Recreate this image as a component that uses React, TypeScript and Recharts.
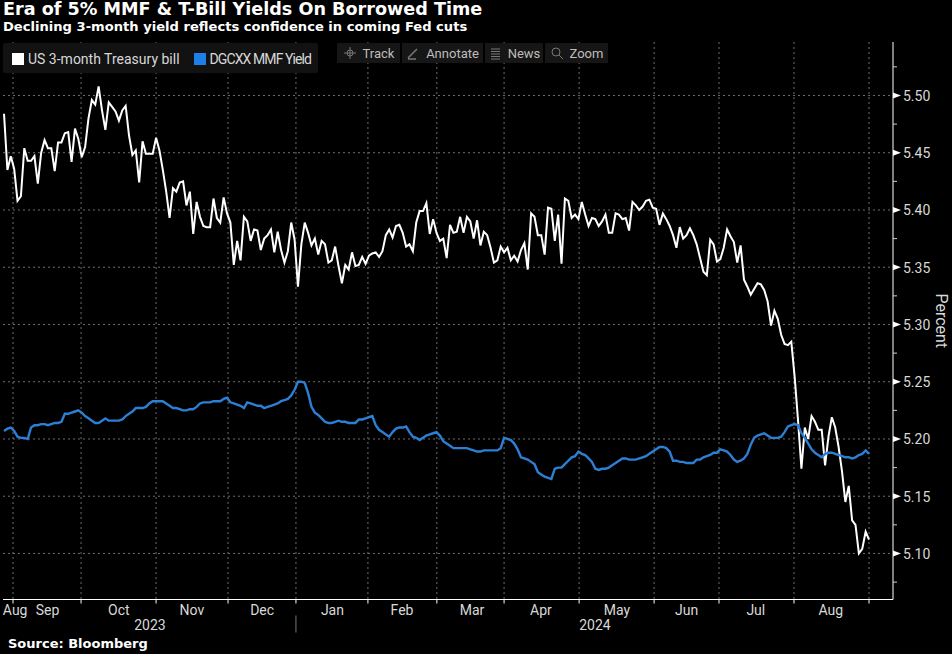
import { CartesianGrid, Legend, Line, LineChart, XAxis, YAxis } from "recharts";

const BILL_NAME = "US 3-month Treasury bill";
const FUND_NAME = "DGCXX MMF Yield";

// weekday by weekday, Aug 2023 to Aug 2024
const billYield = [
    5.484, 5.435, 5.447, 5.436, 5.408, 5.412, 5.454, 5.443, 5.443, 5.447,
    5.423, 5.450, 5.461, 5.454, 5.454, 5.434, 5.459, 5.459, 5.467, 5.468,
    5.442, 5.471, 5.462, 5.446, 5.455, 5.480, 5.496, 5.492, 5.508, 5.487,
    5.470, 5.494, 5.490, 5.486, 5.478, 5.487, 5.491, 5.465, 5.448, 5.452,
    5.424, 5.460, 5.449, 5.449, 5.449, 5.463, 5.452,
    5.435, 5.416, 5.393, 5.419, 5.416, 5.424, 5.425, 5.404, 5.416, 5.379,
    5.407, 5.394, 5.386, 5.385, 5.385, 5.410, 5.393, 5.389, 5.411, 5.397,
    5.389, 5.352, 5.373, 5.356, 5.394, 5.390, 5.373, 5.383, 5.382, 5.365,
    5.375, 5.378, 5.383, 5.363, 5.381, 5.365, 5.354, 5.364, 5.389, 5.374,
    5.333, 5.370,
    5.389, 5.380, 5.369, 5.375, 5.361, 5.373, 5.370, 5.354, 5.356, 5.368,
    5.351, 5.336, 5.352, 5.348, 5.363, 5.351, 5.352, 5.359, 5.353, 5.360,
    5.362, 5.363, 5.359, 5.364, 5.378, 5.383, 5.376, 5.386, 5.387, 5.380,
    5.368, 5.370, 5.364, 5.389, 5.399, 5.399, 5.406, 5.379, 5.392, 5.380,
    5.373, 5.375, 5.358, 5.387, 5.380, 5.381, 5.394, 5.380, 5.394, 5.390,
    5.375, 5.391, 5.369, 5.381, 5.378, 5.367, 5.354, 5.356, 5.368, 5.363,
    5.367, 5.356, 5.360, 5.355, 5.365, 5.371, 5.348, 5.397, 5.394, 5.378,
    5.378, 5.361, 5.402, 5.401, 5.373, 5.396, 5.353, 5.410, 5.408, 5.393,
    5.396, 5.392, 5.407, 5.396, 5.386, 5.393, 5.392, 5.386, 5.390, 5.396,
    5.380, 5.380, 5.397, 5.396, 5.392, 5.393, 5.382, 5.407, 5.404, 5.400,
    5.403, 5.408, 5.409, 5.402, 5.401, 5.387, 5.397, 5.392, 5.386, 5.378,
    5.367, 5.385, 5.375, 5.378, 5.384, 5.378, 5.370, 5.358, 5.346, 5.343,
    5.374, 5.370, 5.355, 5.357, 5.367, 5.383,
    5.377, 5.372, 5.354, 5.369, 5.339, 5.333, 5.326, 5.331, 5.336, 5.335,
    5.330, 5.320, 5.299, 5.312, 5.305, 5.291, 5.283, 5.282, 5.285, 5.254,
    5.216, 5.174, 5.210, 5.200, 5.220, 5.215, 5.208, 5.208, 5.177, 5.202,
    5.219, 5.210, 5.193, 5.172, 5.145, 5.159, 5.129, 5.125, 5.100, 5.104,
    5.119, 5.112,
];

const fundYield = [
    5.207, 5.209, 5.210, 5.207, 5.202, 5.201, 5.201, 5.200, 5.210, 5.212,
    5.212, 5.213, 5.213, 5.212, 5.213, 5.214, 5.214, 5.215, 5.222, 5.222,
    5.223, 5.224, 5.225, 5.223, 5.220, 5.218, 5.216, 5.214, 5.214, 5.216,
    5.218, 5.216, 5.216, 5.216, 5.216, 5.217, 5.220, 5.222, 5.224, 5.227,
    5.227, 5.227, 5.228, 5.231, 5.233, 5.233, 5.233, 5.233, 5.231, 5.229,
    5.227, 5.227, 5.226, 5.225, 5.225, 5.226, 5.226, 5.228, 5.231, 5.232,
    5.232, 5.232, 5.233, 5.233, 5.233, 5.235, 5.236, 5.232, 5.231, 5.230,
    5.229, 5.227, 5.232, 5.231, 5.230, 5.229, 5.229, 5.227, 5.228, 5.229,
    5.230, 5.231, 5.233, 5.234, 5.235, 5.238, 5.243, 5.250, 5.250, 5.249,
    5.240, 5.228, 5.223, 5.221, 5.218, 5.215, 5.214, 5.214, 5.215, 5.216,
    5.215, 5.215, 5.214, 5.214, 5.214, 5.217, 5.217, 5.218, 5.219, 5.220,
    5.212, 5.208, 5.206, 5.204, 5.202, 5.206, 5.209, 5.210, 5.210, 5.211,
    5.206, 5.202, 5.201, 5.199, 5.201, 5.203, 5.204, 5.205, 5.206, 5.203,
    5.198, 5.196, 5.194, 5.192, 5.192, 5.192, 5.192, 5.192, 5.191, 5.190,
    5.189, 5.189, 5.190, 5.190, 5.190, 5.190, 5.190, 5.192, 5.201, 5.200,
    5.199, 5.196, 5.191, 5.184, 5.183, 5.182, 5.180, 5.178, 5.171, 5.169,
    5.167, 5.166, 5.165, 5.174, 5.175, 5.175, 5.178, 5.181, 5.184, 5.185,
    5.189, 5.187, 5.186, 5.183, 5.180, 5.174, 5.173, 5.174, 5.174, 5.175,
    5.177, 5.179, 5.181, 5.183, 5.183, 5.182, 5.182, 5.182, 5.183, 5.184,
    5.185, 5.187, 5.189, 5.191, 5.193, 5.193, 5.192, 5.189, 5.181, 5.181,
    5.180, 5.180, 5.179, 5.179, 5.179, 5.182, 5.182, 5.184, 5.185, 5.186,
    5.188, 5.188, 5.191, 5.190, 5.189, 5.186, 5.182, 5.180, 5.181, 5.183,
    5.187, 5.195, 5.201, 5.203, 5.204, 5.205, 5.203, 5.201, 5.201, 5.201,
    5.202, 5.206, 5.211, 5.212, 5.213, 5.212, 5.205, 5.201, 5.196, 5.191,
    5.188, 5.186, 5.184, 5.187, 5.188, 5.188, 5.187, 5.186, 5.185, 5.184,
    5.184, 5.183, 5.184, 5.186, 5.187, 5.190, 5.187,
];

const monthEndTicks = [2.66, 22.8, 45, 66.3, 86.4, 107.7, 128.1, 148, 170.2, 192.4, 211.6, 233.8, 256];
const monthLabelTicks = [3.3, 12.9, 34, 55.6, 76.4, 97.2, 117.8, 138.5, 158.9, 181.4, 202, 222.5, 244.7];
const monthLabels = ["Aug", "Sep", "Oct", "Nov", "Dec", "Jan", "Feb", "Mar", "Apr", "May", "Jun", "Jul", "Aug"];
const yearTicks = [43.2, 86.4, 174.9];
const yearLabels = ["2023", "", "2024"];
const majorTicks = [5.1, 5.15, 5.2, 5.25, 5.3, 5.35, 5.4, 5.45, 5.5];
const allYTicks = [5.075, 5.1, 5.125, 5.15, 5.175, 5.2, 5.225, 5.25, 5.275, 5.3, 5.325, 5.35, 5.375, 5.4, 5.425, 5.45, 5.475, 5.5, 5.525];
const tools = ["Track", "Annotate", "News", "Zoom"];

const tableData = billYield.map((bill, i) => ({ day: i, bill, fund: fundYield[i] }));

const X_DOMAIN: [number, number] = [-0.3, 263.1];
const FONT = "Roboto, 'Liberation Sans', sans-serif";
const HEAD_FONT = "'DejaVu Sans', sans-serif";
const AXIS_TEXT = "#d8d8d8";
const FUND_BLUE = "#2b7fd4";

const YTick = ({ x, y, payload }: any) => {
    const isMajor = majorTicks.some((t) => Math.abs(t - payload.value) < 0.001);
    if (!isMajor) return <line x1={x} x2={x + 4} y1={y} y2={y} stroke="#cfcfcf" />;
    return (
        <g>
            <path d={`M${x} ${y - 3}L${x + 8} ${y}L${x} ${y + 3}Z`} fill="#fff" />
            <text x={x + 10} y={y + 5.5} fill={AXIS_TEXT} fontSize={14} fontFamily={FONT}>{payload.value.toFixed(2)}</text>
        </g>
    );
};

const YearTick = ({ x, y, payload }: any) => {
    const label = yearLabels[yearTicks.indexOf(payload.value)];
    if (!label) return <line x1={x} x2={x} y1={y - 6} y2={y + 11} stroke="#777" />;
    return <text x={x} y={y + 8} textAnchor="middle" fill={AXIS_TEXT} fontSize={14} fontFamily={FONT}>{label}</text>;
};

const NoLabel = () => <g />;

const LegendBox = () => (
    <div style={{ display: "flex", alignItems: "center", height: 30, width: 315, background: "#121212", borderRadius: 2, fontFamily: FONT, fontSize: 14, color: AXIS_TEXT, boxSizing: "border-box", paddingLeft: 9, paddingTop: 1 }}>
        <span style={{ width: 12, height: 12, flexShrink: 0, background: "#fff", marginRight: 4 }} />
        <span style={{ marginRight: 14, whiteSpace: "nowrap" }}>{BILL_NAME}</span>
        <span style={{ width: 12, height: 12, flexShrink: 0, background: "#1f7fe8", marginRight: 4 }} />
        <span style={{ whiteSpace: "nowrap", letterSpacing: -0.9 }}>{FUND_NAME}</span>
    </div>
);

const ToolIcon = ({ name }: { name: string }) => {
    const stroke = "#777";
    if (name === "Track") return <svg width={14} height={14}><circle cx={7} cy={7} r={3} fill="none" stroke={stroke} /><path d="M7 1V13M1 7H13" stroke={stroke} /></svg>;
    if (name === "Annotate") return <svg width={14} height={14}><path d="M2 12L11 3M2 13H10" stroke={stroke} strokeWidth={1.5} /></svg>;
    if (name === "News") return <svg width={14} height={14}><path d="M3 3H12M3 5.5H12M3 8H12M3 10.5H12M3 13H12" stroke={stroke} /></svg>;
    return <svg width={14} height={14}><circle cx={6} cy={6} r={4} fill="none" stroke={stroke} /><path d="M9 9L13 13" stroke={stroke} /></svg>;
};

const toolWidths = [63, 81, 58, 63];

export default function App() {
    return (
        <div style={{ position: "absolute", left: 0, top: 0, width: 952, height: 654, background: "#000", overflow: "hidden" }}>
            <LineChart
                width={952}
                height={654}
                data={tableData}
                margin={{ top: 42, right: 0, bottom: 10.5, left: 3 }}
            >
                <CartesianGrid
                    stroke="#6e6e6e"
                    strokeDasharray="2 3"
                    horizontalValues={majorTicks}
                    verticalValues={monthEndTicks}
                    syncWithTicks={false}
                />
                <XAxis
                    dataKey="day"
                    type="number"
                    domain={X_DOMAIN}
                    ticks={monthEndTicks}
                    tick={<NoLabel />}
                    height={4}
                    tickSize={4}
                    interval={0}
                    allowDataOverflow
                    stroke="#fff"
                />
                <XAxis
                    xAxisId="months"
                    dataKey="day"
                    type="number"
                    domain={X_DOMAIN}
                    ticks={monthLabelTicks}
                    tickFormatter={(v: number) => monthLabels[monthLabelTicks.indexOf(v)]}
                    tick={{ fill: AXIS_TEXT, fontSize: 14, fontFamily: FONT }}
                    height={18}
                    tickLine={false}
                    axisLine={false}
                    tickSize={0}
                    tickMargin={2}
                    interval={0}
                    allowDataOverflow
                />
                <XAxis
                    xAxisId="years"
                    dataKey="day"
                    type="number"
                    domain={X_DOMAIN}
                    ticks={yearTicks}
                    tick={<YearTick />}
                    height={22}
                    tickLine={false}
                    axisLine={false}
                    tickSize={0}
                    tickMargin={0}
                    interval={0}
                    allowDataOverflow
                />
                <YAxis
                    orientation="right"
                    type="number"
                    domain={[5.0598, 5.5467]}
                    ticks={allYTicks}
                    tick={<YTick />}
                    tickLine={false}
                    tickSize={0}
                    tickMargin={0}
                    width={59}
                    interval={0}
                    allowDataOverflow
                    stroke="#fff"
                    label={{ value: "Percent", angle: 90, position: "insideRight", offset: 10, textAnchor: "middle", fill: AXIS_TEXT, fontSize: 16, fontFamily: FONT }}
                />
                <Legend
                    content={<LegendBox />}
                    layout="horizontal"
                    align="center"
                    verticalAlign="middle"
                    wrapperStyle={{ position: "absolute", left: 3, top: 43, width: 315 }}
                />
                <Line dataKey="bill" name={BILL_NAME} stroke="#fff" strokeWidth={2} dot={false} isAnimationActive={false} />
                <Line dataKey="fund" name={FUND_NAME} stroke={FUND_BLUE} strokeWidth={2.4} dot={false} isAnimationActive={false} />
            </LineChart>

            <div style={{ position: "absolute", left: 3, top: -1, color: "#fff", fontFamily: HEAD_FONT, fontWeight: 700, fontSize: 17.6, whiteSpace: "nowrap" }}>
                Era of 5% MMF &amp; T-Bill Yields On Borrowed Time
            </div>
            <div style={{ position: "absolute", left: 3, top: 19, color: "#fff", fontFamily: HEAD_FONT, fontWeight: 700, fontSize: 13.1, whiteSpace: "nowrap" }}>
                Declining 3-month yield reflects confidence in coming Fed cuts
            </div>
            <div style={{ position: "absolute", left: 337, top: 43, display: "flex", gap: 2 }}>
                {tools.map((name, i) => (
                    <div key={name} style={{ width: toolWidths[i], height: 20, background: "#161616", display: "flex", alignItems: "center", justifyContent: "center", gap: 6, color: "#bdbdbd", fontFamily: FONT, fontSize: 13 }}>
                        <ToolIcon name={name} />
                        <span>{name}</span>
                    </div>
                ))}
            </div>
            <div style={{ position: "absolute", left: 8, top: 636, color: "#fff", fontFamily: HEAD_FONT, fontWeight: 700, fontSize: 13, whiteSpace: "nowrap" }}>
                Source: Bloomberg
            </div>
        </div>
    );
}
